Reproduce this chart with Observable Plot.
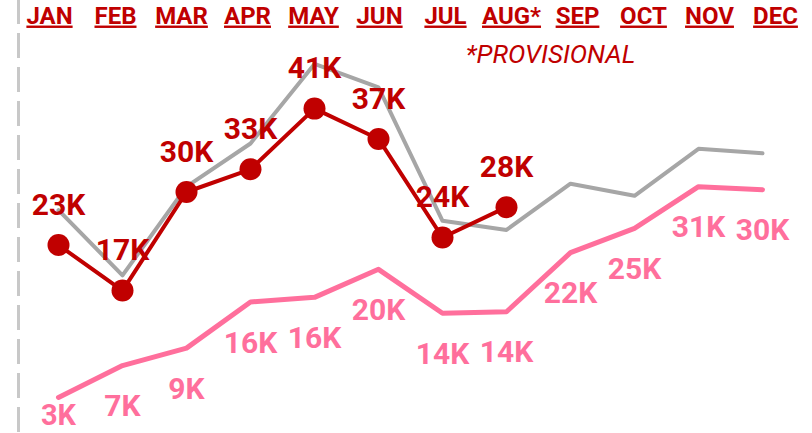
<!DOCTYPE html>
<html><head><meta charset="utf-8">
<script src="https://cdn.jsdelivr.net/npm/d3@7"></script>
<script src="https://cdn.jsdelivr.net/npm/@observablehq/plot@0.6"></script>
<style>
body{margin:0;background:#fff;}
#wrap{position:relative;width:812px;height:433px;overflow:hidden;}
#wrap svg{position:absolute;left:0;top:0;}
</style></head><body><div id="wrap"></div>
<script>
const months = ["JAN","FEB","MAR","APR","MAY","JUN","JUL","AUG*","SEP","OCT","NOV","DEC"];
const currentYear = [23000,17000,30000,33000,41000,37000,24000,28000];
const previousYear = [27600,19000,30700,36400,46900,43800,26200,25000,31100,29500,35700,35100];
const thirdSeries = [2900,7100,9400,15500,16100,19800,14000,14200,22000,25200,30700,30300];
const note = "*PROVISIONAL";

const fmtK = v => Math.round(v/1000) + "K";
const RED = "#C00000", PINK = "#FF6F9C", GRAY = "#A6A6A6";
const FONT = "Roboto, 'DejaVu Sans', sans-serif";

const cur = currentYear.map((v,i)=>({m:months[i], v}));
const prev = previousYear.map((v,i)=>({m:months[i], v}));
const third = thirdSeries.map((v,i)=>({m:months[i], v, i}));

const main = Plot.plot({
  width: 812, height: 433,
  marginLeft: 18, marginRight: 0, marginTop: 0, marginBottom: 0,
  style: {background: "transparent", fontFamily: FONT},
  x: {type: "point", domain: months, range: [55, 765], padding: 0, axis: null},
  y: {domain: [0, 50000], range: [418.9, 39.9], axis: null},
  marks: [
    Plot.frame({anchor: "left", stroke: "#C8C8C8", strokeWidth: 3, strokeDasharray: "22,12"}),
    Plot.line(prev, {x: "m", y: "v", stroke: GRAY, strokeWidth: 4}),
    Plot.line(third, {x: "m", y: "v", stroke: PINK, strokeWidth: 5}),
    Plot.line(cur, {x: "m", y: "v", stroke: RED, strokeWidth: 4}),
    Plot.dot(cur, {x: "m", y: "v", r: 11, fill: RED}),
    Plot.text(cur, {x: "m", y: "v", text: d => fmtK(d.v), dy: -40, fill: RED, fontSize: 30, fontWeight: "bold"}),
    Plot.text(third.filter(d => d.i > 0), {x: "m", y: "v", text: d => fmtK(d.v), dy: 41, fill: PINK, fontSize: 30, fontWeight: "bold"}),
    Plot.text(third.filter(d => d.i === 0), {x: "m", y: "v", text: d => fmtK(d.v), dy: 18, fill: PINK, fontSize: 29, fontWeight: "bold"}),
    Plot.text([note], {x: () => "AUG*", frameAnchor: "top", dx: 44, dy: 44, text: d => d, fill: RED, fontSize: 26, fontStyle: "italic", letterSpacing: "1.5px"})
  ]
});

const header = Plot.plot({
  width: 812, height: 40,
  marginLeft: 48, marginRight: 37, marginTop: 0, marginBottom: 0,
  style: {background: "transparent", fontFamily: FONT},
  x: {type: "point", domain: months, padding: 0, axis: null},
  marks: [
    Plot.text(months, {x: d => d, text: d => d, frameAnchor: "top", dy: 6, fill: RED, fontSize: 24, fontWeight: "bold"})
  ]
});
header.querySelectorAll("text").forEach(t => t.style.textDecoration = "underline");

const wrap = document.getElementById("wrap");
wrap.appendChild(main);
wrap.appendChild(header);
</script>
</body></html>
